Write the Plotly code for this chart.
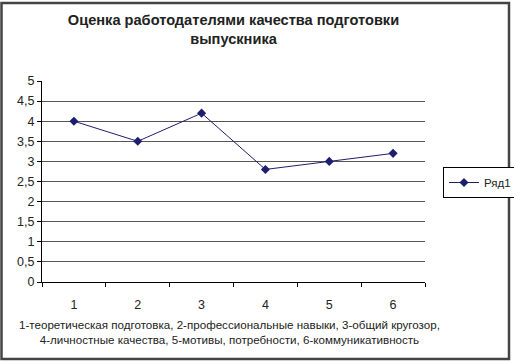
import plotly.graph_objects as go

categories = [1, 2, 3, 4, 5, 6]
values = [4.0, 3.5, 4.2, 2.8, 3.0, 3.2]
series_name = "Ряд1"
title_text = "Оценка работодателями качества подготовки<br>выпускника"
caption_text = ("1-теоретическая подготовка, 2-профессиональные навыки, 3-общий кругозор,<br>"
                "4-личностные качества, 5-мотивы, потребности, 6-коммуникативность")
y_ticks = [0, 0.5, 1, 1.5, 2, 2.5, 3, 3.5, 4, 4.5, 5]

W, H = 514, 361
ml, mr, mt, mb = 42, 89, 81, 79
pw, ph = W - ml - mr, H - mt - mb

fig = go.Figure()
fig.add_trace(go.Scatter(
    x=categories, y=values, mode="lines+markers", name=series_name,
    line=dict(color="#1e1e6e", width=1),
    marker=dict(symbol="diamond", size=7, color="#1e1e6e"),
))

font = "Liberation Sans, Arial, sans-serif"
fig.update_layout(
    width=W, height=H,
    margin=dict(l=ml, r=mr, t=mt, b=mb, autoexpand=False),
    paper_bgcolor="white", plot_bgcolor="white",
    separators=", ",
    font=dict(family=font, size=12, color="#222"),
    title=dict(text=f"<b>{title_text}</b>", x=0.5, xref="paper", xanchor="center",
               yref="container", y=1 - 25 / H, yanchor="top", font=dict(size=14.6, color="#222")),
    showlegend=True,
    legend=dict(x=(443 - ml) / pw, y=(mt + ph - 167) / ph, xanchor="left", yanchor="top",
                bordercolor="#000", borderwidth=1, bgcolor="white",
                font=dict(size=11.5), itemwidth=30, tracegroupgap=0),
    xaxis=dict(range=[0.5, 6.5], tickvals=categories, ticktext=[str(c) for c in categories],
               ticks="", showgrid=False, showline=True, linecolor="#000", linewidth=1,
               zeroline=False, tickfont=dict(size=12.5, color="#222"), ticklabelstandoff=11,
               minor=dict(tickvals=[c - 0.5 for c in categories] + [categories[-1] + 0.5],
                          ticks="outside", ticklen=4, tickcolor="#000", showgrid=False)),
    yaxis=dict(range=[0, 5], tickvals=y_ticks, ticks="outside", ticklen=4, tickcolor="#000",
               showgrid=True, gridcolor="#555", gridwidth=1, showline=True, linecolor="#000",
               linewidth=1, zeroline=False, tickfont=dict(size=12.5, color="#222")),
    annotations=[dict(text=caption_text, xref="paper", yref="paper", x=0.49, y=-(316 - mt - ph) / ph,
                      xanchor="center", yanchor="top", showarrow=False, align="center",
                      font=dict(size=11.6, color="#222"))],
    shapes=[dict(type="rect", xref="paper", yref="paper",
                 x0=-(ml - 1.5) / pw, x1=1 + (mr - 5) / pw,
                 y0=-(mb - 2) / ph, y1=1 + (mt - 3) / ph,
                 line=dict(color="#444", width=2.5), layer="above")],
)

fig.write_html("out.html", config={"displayModeBar": False},
               post_script="document.body.style.margin='0';")
